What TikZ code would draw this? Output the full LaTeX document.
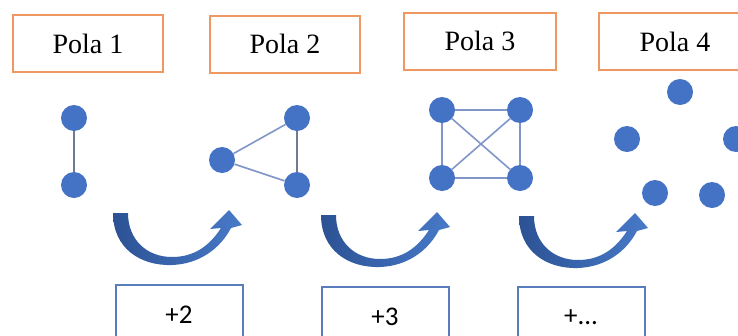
\documentclass[tikz,border=0pt]{standalone}
\usepackage{fontspec}
\setmainfont{Liberation Serif}
\newfontfamily\calibfont{Carlito}
\usetikzlibrary{positioning}

\definecolor{polaorange}{RGB}{240,152,98}
\definecolor{dotblue}{RGB}{68,114,196}
\definecolor{edgeblue}{RGB}{128,150,200}
\definecolor{boxblue}{RGB}{88,124,188}
\definecolor{arrowdark}{RGB}{44,82,148}
\definecolor{arrowlight}{RGB}{72,122,200}

\begin{document}
\begin{tikzpicture}[x=1pt, y=-1pt,
  polabox/.style={draw=polaorange, line width=2pt, minimum width=150pt,
    minimum height=57pt, inner sep=0pt, font=\fontsize{28}{32}\selectfont},
  stepbox/.style={draw=boxblue, line width=2pt, minimum width=127pt,
    minimum height=60pt, inner sep=0pt, font=\calibfont\fontsize{27}{30}\selectfont},
  dot/.style={circle, fill=dotblue, inner sep=0pt, minimum size=26pt},
  edge/.style={edgeblue, line width=1.6pt}]
  \useasboundingbox (0,0) rectangle (738,335);
  \clip (0,0) rectangle (738,335);

  % Titles
  \node[polabox] (pola1) at (88,43.5) {Pola 1};
  \node[polabox] (pola2) at (285,44) {Pola 2};
  \node[polabox, minimum width=152pt] (pola3) at (480,41) {Pola 3};
  \node[polabox, minimum width=152pt] (pola4) at (675,41.5) {Pola 4};

  % Pola 1
  \node[dot] (a1) at (74,118) {};
  \node[dot] (a2) at (74,185) {};
  \draw[edge, gray!70!dotblue] (a1) -- (a2);

  % Pola 2
  \node[dot] (b1) at (222,160) {};
  \node[dot] (b2) at (297,118) {};
  \node[dot] (b3) at (297,185) {};
  \draw[edge] (b1) -- (b2);
  \draw[edge] (b1) -- (b3);
  \draw[edge, gray!70!dotblue] (b2) -- (b3);

  % Pola 3
  \node[dot] (c1) at (442,110) {};
  \node[dot] (c2) at (520,110) {};
  \node[dot] (c3) at (442,178) {};
  \node[dot] (c4) at (520,178) {};
  \foreach \u/\v in {c1/c2, c1/c3, c2/c4, c3/c4, c1/c4, c2/c3}
    \draw[edge] (\u) -- (\v);

  % Pola 4
  \node[dot] (d1) at (680,92) {};
  \node[dot] (d2) at (627,139) {};
  \node[dot] (d3) at (736,139) {};
  \node[dot] (d4) at (655,193) {};
  \node[dot] (d5) at (712,195) {};

  % Curved arrows
  \foreach \s/\t in {0/0, 208/2, 406/3} {
    \begin{scope}[xshift=\s, yshift=-\t]
      \shade[left color=arrowdark, right color=arrowlight]
        (113,213) .. controls (113,248) and (140,266) .. (172,265)
        .. controls (199,264) and (220,249) .. (231,228)
        -- (242,225) -- (229,210) -- (210,229) -- (221,228)
        .. controls (210,245) and (195,257) .. (172,257)
        .. controls (147,257) and (128,240) .. (128,213) -- cycle;
    \end{scope}
  }

  % Increments
  \node[stepbox] (inc2) at (179,315) {+2};
  \node[stepbox] (inc3) at (385,317) {+3};
  \node[stepbox] (incn) at (581,317) {+...};
\end{tikzpicture}
\end{document}
